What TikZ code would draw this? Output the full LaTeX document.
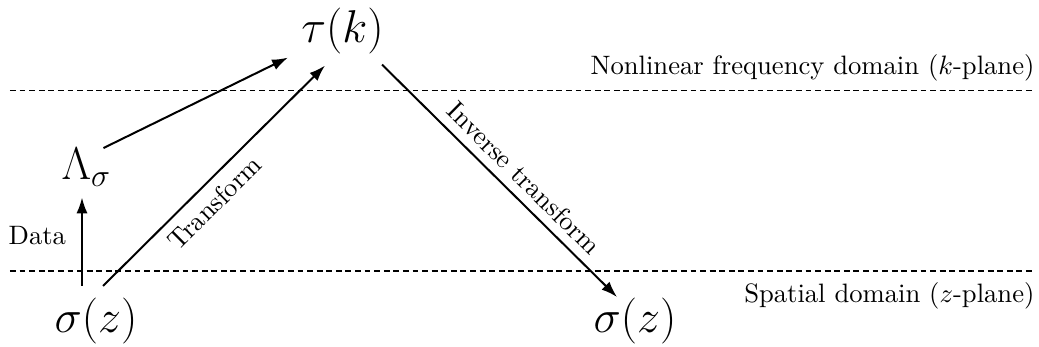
\documentclass[tikz,border=0pt]{standalone}
\usetikzlibrary{arrows.meta}
\begin{document}
\begin{tikzpicture}[x=0.3756pt,y=-0.3756pt,
  arr/.style={-{Latex[length=6pt,width=4.2pt]}, line width=0.75pt},
  bigmath/.style={inner sep=0pt, anchor=base, font=\LARGE},
  domlabel/.style={anchor=base east, inner sep=0pt},
  domline/.style={line width=0.4pt, dash pattern=on 2.2pt off 1.4pt}]
\useasboundingbox (0,0) rectangle (1039,347);
% domain separators
\coordinate (kl) at (10,90.7);
\coordinate (kr) at (1035,90.7);
\coordinate (zl) at (10,271);
\coordinate (zr) at (1035,271);
\draw[domline] (kl) -- (kr);
\draw[domline] (zl) -- (zr);
\node[domlabel] (klab) at (1035,75) {Nonlinear frequency domain ($k$-plane)};
\node[domlabel] (zlab) at (1035,303) {Spatial domain ($z$-plane)};
% main nodes
\node[bigmath] (tau) at (342.5,43) {$\tau(k)$};
\node[bigmath] (lam) at (86.5,180) {$\Lambda_\sigma$};
\node[bigmath] (s1) at (96,333) {$\sigma(z)$};
\node[bigmath] (s2) at (635,333) {$\sigma(z)$};
% connectors
\draw[arr] ([shift={(-14,-12)}]s1.north) -- node[pos=0.57, left=2.3pt] (datal) {Data} ([shift={(-4.5,10)}]lam.south);
\draw[arr] ([shift={(17,0)}]lam.north) -- ([shift={(-54.5,2.6)}]tau.south);
\draw[arr] ([shift={(7,-12)}]s1.north) -- node[pos=0.44, below, sloped] (trl) {Transform} ([shift={(-17.5,10.6)}]tau.south);
\draw[arr] ([shift={(39.5,9.6)}]tau.south) -- node[pos=0.547, above, sloped] (itrl) {Inverse transform} ([shift={(-18,-1)}]s2.north);
\end{tikzpicture}
\end{document}
